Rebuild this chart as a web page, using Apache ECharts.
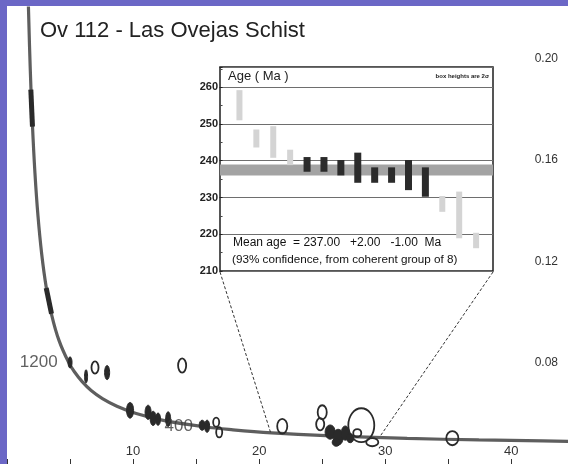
<!DOCTYPE html>
<html>
<head>
<meta charset="utf-8">
<script src="https://cdn.jsdelivr.net/npm/echarts@6/dist/echarts.min.js"></script>
<style>
  html, body { margin: 0; padding: 0; background: #6b67c6; overflow: hidden; }
  #chart { position: absolute; left: 7px; top: 6px; width: 561px; height: 458px; background: #ffffff; }
</style>
</head>
<body>
<div id="chart"></div>
<script>
// Tera-Wasserburg concordia: 238U/206Pb (x) vs 207Pb/206Pb (y)
const concordiaX = [1.687, 1.838, 2.013, 2.217, 2.459, 2.749, 3.105, 3.550, 4.123, 4.888, 5.375, 5.960, 6.674, 7.568, 8.718, 10.252, 12.399, 15.621, 17.923, 20.992, 25.289, 31.735, 37.423, 42.478, 49.09];
const concordiaY = [0.2227, 0.1968, 0.1744, 0.1548, 0.1378, 0.1230, 0.1100, 0.0987, 0.0888, 0.0801, 0.0762, 0.0725, 0.0690, 0.0658, 0.0628, 0.0599, 0.0572, 0.0547, 0.0535, 0.0523, 0.0512, 0.0501, 0.0495, 0.0491, 0.0486];

// labelled ages on the concordia (Ma) and their positions
const ageLabels = ['1200', '400'];
const ageLabelX = [4.888, 15.621];
const ageLabelY = [0.0801, 0.0547];

// old concordant grains, drawn as segments along the curve
const oldGrainA = [[1.89, 0.1878], [2.02, 0.1732]];
const oldGrainB = [[3.11, 0.1095], [3.53, 0.0993]];

// analyses: centre x, centre y, half-width x, half-height y
const spotX  = [5.00, 6.27, 6.98, 7.94, 13.89, 9.76, 11.19, 11.59, 11.98, 12.78, 15.48, 15.87, 16.59, 16.83, 21.83, 25.00, 24.84, 25.63, 26.27, 26.83, 26.11, 27.22, 28.10, 27.78, 28.97, 35.32];
const spotY  = [0.0801, 0.0746, 0.0781, 0.0761, 0.0789, 0.0612, 0.0604, 0.0580, 0.0577, 0.0577, 0.0553, 0.0549, 0.0565, 0.0525, 0.0549, 0.0604, 0.0557, 0.0526, 0.0506, 0.0522, 0.0486, 0.0502, 0.0553, 0.0522, 0.0486, 0.0502];
const spotEx = [0.16, 0.12, 0.28, 0.20, 0.32, 0.28, 0.24, 0.24, 0.20, 0.20, 0.24, 0.20, 0.24, 0.24, 0.40, 0.36, 0.32, 0.40, 0.40, 0.32, 0.32, 0.28, 1.03, 0.32, 0.48, 0.48];
const spotEy = [0.0022, 0.0026, 0.0024, 0.0028, 0.0028, 0.0031, 0.0028, 0.0028, 0.0024, 0.0029, 0.0020, 0.0024, 0.0018, 0.0020, 0.0029, 0.0028, 0.0024, 0.0028, 0.0031, 0.0028, 0.0016, 0.0018, 0.0067, 0.0016, 0.0016, 0.0028];
const spotFilled = [1, 1, 0, 1, 0, 1, 1, 1, 1, 1, 1, 1, 0, 0, 0, 0, 0, 1, 1, 1, 1, 1, 0, 0, 0, 0];

const xTicks = [10, 20, 30, 40];
const yTicks = [0.08, 0.12, 0.16, 0.20];

// inset: youngest-grain ages (Ma), 2-sigma boxes
const grainNo   = [1, 2, 3, 4, 5, 6, 7, 8, 9, 10, 11, 12, 13, 14, 15];
const ageLow    = [251.0, 243.6, 240.8, 238.8, 237.0, 237.0, 236.0, 234.0, 234.0, 234.0, 232.0, 230.2, 226.1, 218.9, 216.2];
const ageHigh   = [259.2, 248.5, 249.4, 243.0, 241.0, 241.0, 240.2, 242.2, 238.2, 238.2, 240.2, 238.2, 230.4, 231.6, 220.4];
const inGroup   = [0, 0, 0, 0, 1, 1, 1, 1, 1, 1, 1, 1, 0, 0, 0];
const insetTicks = [210, 220, 230, 240, 250, 260];

const meanAge = 237.00;
const meanPlus = 2.00;
const meanMinus = 1.00;
const groupSize = 8;
const confidence = 93;

// points where the inset is tied to the concordia
const leaderEnds = [[20.9, 0.0525], [29.6, 0.0510]];

const FONT = '"Liberation Sans", Arial, sans-serif';

const chart = echarts.init(document.getElementById('chart'), null, { renderer: 'canvas' });

const spots = spotX.map((x, i) => [x, spotY[i], spotEx[i], spotEy[i], spotFilled[i]]);
const boxes = grainNo.map((n, i) => [n, ageLow[i], ageHigh[i], inGroup[i]]);

const option = {
  animation: false,
  backgroundColor: '#ffffff',
  title: {
    text: 'Ov 112 - Las Ovejas Schist',
    left: 33, top: 14, padding: 0,
    textStyle: { fontFamily: FONT, fontSize: 22, fontWeight: 'normal', color: '#222' }
  },
  grid: [
    { left: 0, top: 2, right: -19, bottom: 0, outerBoundsMode: 'none', containLabel: false },
    { left: 213, top: 61, right: 75, bottom: 193, outerBoundsMode: 'none', containLabel: false,
      show: true, backgroundColor: '#ffffff', borderColor: '#1e1e1e', borderWidth: 1.5 }
  ],
  xAxis: [
    {
      gridIndex: 0, type: 'value', min: 0, max: 46, interval: 5,
      axisLine: { show: true, lineStyle: { color: '#555', width: 1 } },
      axisTick: { show: true, inside: true, length: 5, lineStyle: { color: '#333', width: 1 } },
      splitLine: { show: false },
      axisLabel: {
        inside: true, margin: 6, fontFamily: FONT, fontSize: 13, color: '#333',
        formatter: v => xTicks.includes(v) ? String(v) : ''
      }
    },
    { gridIndex: 1, type: 'value', min: -0.15, max: 16, show: false }
  ],
  yAxis: [
    {
      gridIndex: 0, type: 'value', position: 'right', min: 0.04, max: 0.22, interval: 0.04,
      axisLine: { show: false }, axisTick: { show: false }, splitLine: { show: false },
      axisLabel: {
        inside: true, margin: 29, fontFamily: FONT, fontSize: 12, color: '#333',
        showMinLabel: false, showMaxLabel: false,
        formatter: v => yTicks.some(t => Math.abs(t - v) < 1e-9) ? v.toFixed(2) : ''
      }
    },
    {
      gridIndex: 1, type: 'value', min: 210, max: 265.5, interval: 10,
      axisLine: { show: false },
      axisTick: { show: true, length: 3, lineStyle: { color: '#222' } },
      minorTick: { show: true, splitNumber: 2, length: 2, lineStyle: { color: '#444' } },
      splitLine: { show: true, lineStyle: { color: '#6e6e6e', width: 1 } },
      axisLabel: {
        margin: 2, fontFamily: FONT, fontSize: 11, fontWeight: 'bold', color: '#222',
        showMaxLabel: false,
        formatter: v => insetTicks.includes(v) ? String(v) : ''
      }
    }
  ],
  series: [
    {
      type: 'line', xAxisIndex: 0, yAxisIndex: 0, z: 2,
      data: concordiaX.map((x, i) => [x, concordiaY[i]]),
      smooth: 0.4, showSymbol: false, symbol: 'none',
      lineStyle: { color: '#5e5e5e', width: 3.2 }
    },
    {
      type: 'line', xAxisIndex: 0, yAxisIndex: 0, z: 3, data: oldGrainA,
      symbol: 'none', lineStyle: { color: '#2a2a2a', width: 5 }
    },
    {
      type: 'line', xAxisIndex: 0, yAxisIndex: 0, z: 3, data: oldGrainB,
      symbol: 'none', lineStyle: { color: '#2a2a2a', width: 5 }
    },
    {
      type: 'scatter', xAxisIndex: 0, yAxisIndex: 0, z: 4, symbolSize: 0,
      data: ageLabels.map((t, i) => ({ value: [ageLabelX[i], ageLabelY[i]], name: t })),
      label: {
        show: true, position: 'left', distance: 11, formatter: p => p.name,
        fontFamily: FONT, fontSize: 17, color: '#3a3a3a'
      }
    },
    {
      type: 'custom', xAxisIndex: 0, yAxisIndex: 0, z: 4,
      data: spots,
      encode: { x: 0, y: 1 },
      renderItem: (params, api) => {
        const c = api.coord([api.value(0), api.value(1)]);
        const s = api.size([api.value(2), api.value(3)]);
        const filled = api.value(4) === 1;
        return {
          type: 'ellipse',
          shape: { cx: c[0], cy: c[1], rx: s[0], ry: s[1] },
          style: filled
            ? { fill: '#2a2a2a', stroke: '#2a2a2a', lineWidth: 1 }
            : { fill: 'none', stroke: '#2a2a2a', lineWidth: 1.8 }
        };
      }
    },
    {
      // mean-age band across the inset
      type: 'custom', xAxisIndex: 1, yAxisIndex: 1, z: 6,
      data: [[meanAge - meanMinus, meanAge + meanPlus]],
      encode: { y: [0, 1] },
      renderItem: (params, api) => {
        const cs = params.coordSys;
        const hi = api.coord([0, api.value(1)])[1];
        const lo = api.coord([0, api.value(0)])[1];
        return {
          type: 'rect',
          shape: { x: cs.x, y: hi, width: cs.width, height: lo - hi },
          style: { fill: '#a3a3a3' }
        };
      }
    },
    {
      type: 'custom', xAxisIndex: 1, yAxisIndex: 1, z: 7,
      data: boxes,
      encode: { x: 0, y: [1, 2] },
      renderItem: (params, api) => {
        const dark = api.value(3) === 1;
        const top = api.coord([api.value(0), api.value(2)]);
        const bot = api.coord([api.value(0), api.value(1)]);
        const w = dark ? 7 : 6;
        return {
          type: 'rect',
          shape: { x: top[0] - w / 2, y: top[1], width: w, height: bot[1] - top[1] },
          style: { fill: dark ? '#2b2b2b' : '#d4d4d4' }
        };
      }
    }
  ]
};

chart.setOption(option);

// annotations placed from the axes' own scales
function addOverlay() {
  const cornerL = chart.convertToPixel({ xAxisIndex: 1, yAxisIndex: 1 }, [-0.15, 210]);
  const cornerR = chart.convertToPixel({ xAxisIndex: 1, yAxisIndex: 1 }, [16, 210]);
  const headY = chart.convertToPixel({ xAxisIndex: 1, yAxisIndex: 1 }, [0, 263])[1];
  const endL = chart.convertToPixel({ xAxisIndex: 0, yAxisIndex: 0 }, leaderEnds[0]);
  const endR = chart.convertToPixel({ xAxisIndex: 0, yAxisIndex: 0 }, leaderEnds[1]);
  const textY1 = chart.convertToPixel({ xAxisIndex: 1, yAxisIndex: 1 }, [0, 217.6])[1];
  const textY2 = chart.convertToPixel({ xAxisIndex: 1, yAxisIndex: 1 }, [0, 213.0])[1];
  const dash = { stroke: '#333', lineWidth: 1, lineDash: [3, 2] };
  chart.setOption({
    graphic: [
      { type: 'line', z: 20, shape: { x1: cornerL[0], y1: cornerL[1] + 1, x2: endL[0], y2: endL[1] }, style: dash },
      { type: 'line', z: 20, shape: { x1: cornerR[0], y1: cornerR[1] + 1, x2: endR[0], y2: endR[1] }, style: dash },
      { type: 'text', z: 20, x: cornerL[0] + 8, y: headY,
        style: { text: 'Age ( Ma )', font: '13px ' + FONT, fill: '#222', verticalAlign: 'middle' } },
      { type: 'text', z: 20, x: cornerR[0] - 4, y: headY,
        style: { text: 'box heights are 2\u03c3', font: 'bold 6px ' + FONT, fill: '#222', align: 'right', verticalAlign: 'middle' } },
      { type: 'text', z: 20, x: cornerL[0] + 13, y: textY1,
        style: {
          text: 'Mean age  = ' + meanAge.toFixed(2) + '   +' + meanPlus.toFixed(2) + '   -' + meanMinus.toFixed(2) + '  Ma',
          font: '12px ' + FONT, fill: '#111', verticalAlign: 'middle'
        } },
      { type: 'text', z: 20, x: cornerL[0] + 12, y: textY2,
        style: {
          text: '(' + confidence + '% confidence, from coherent group of ' + groupSize + ')',
          font: '11.7px ' + FONT, fill: '#111', verticalAlign: 'middle'
        } }
    ]
  });
}
addOverlay();
</script>
</body>
</html>
